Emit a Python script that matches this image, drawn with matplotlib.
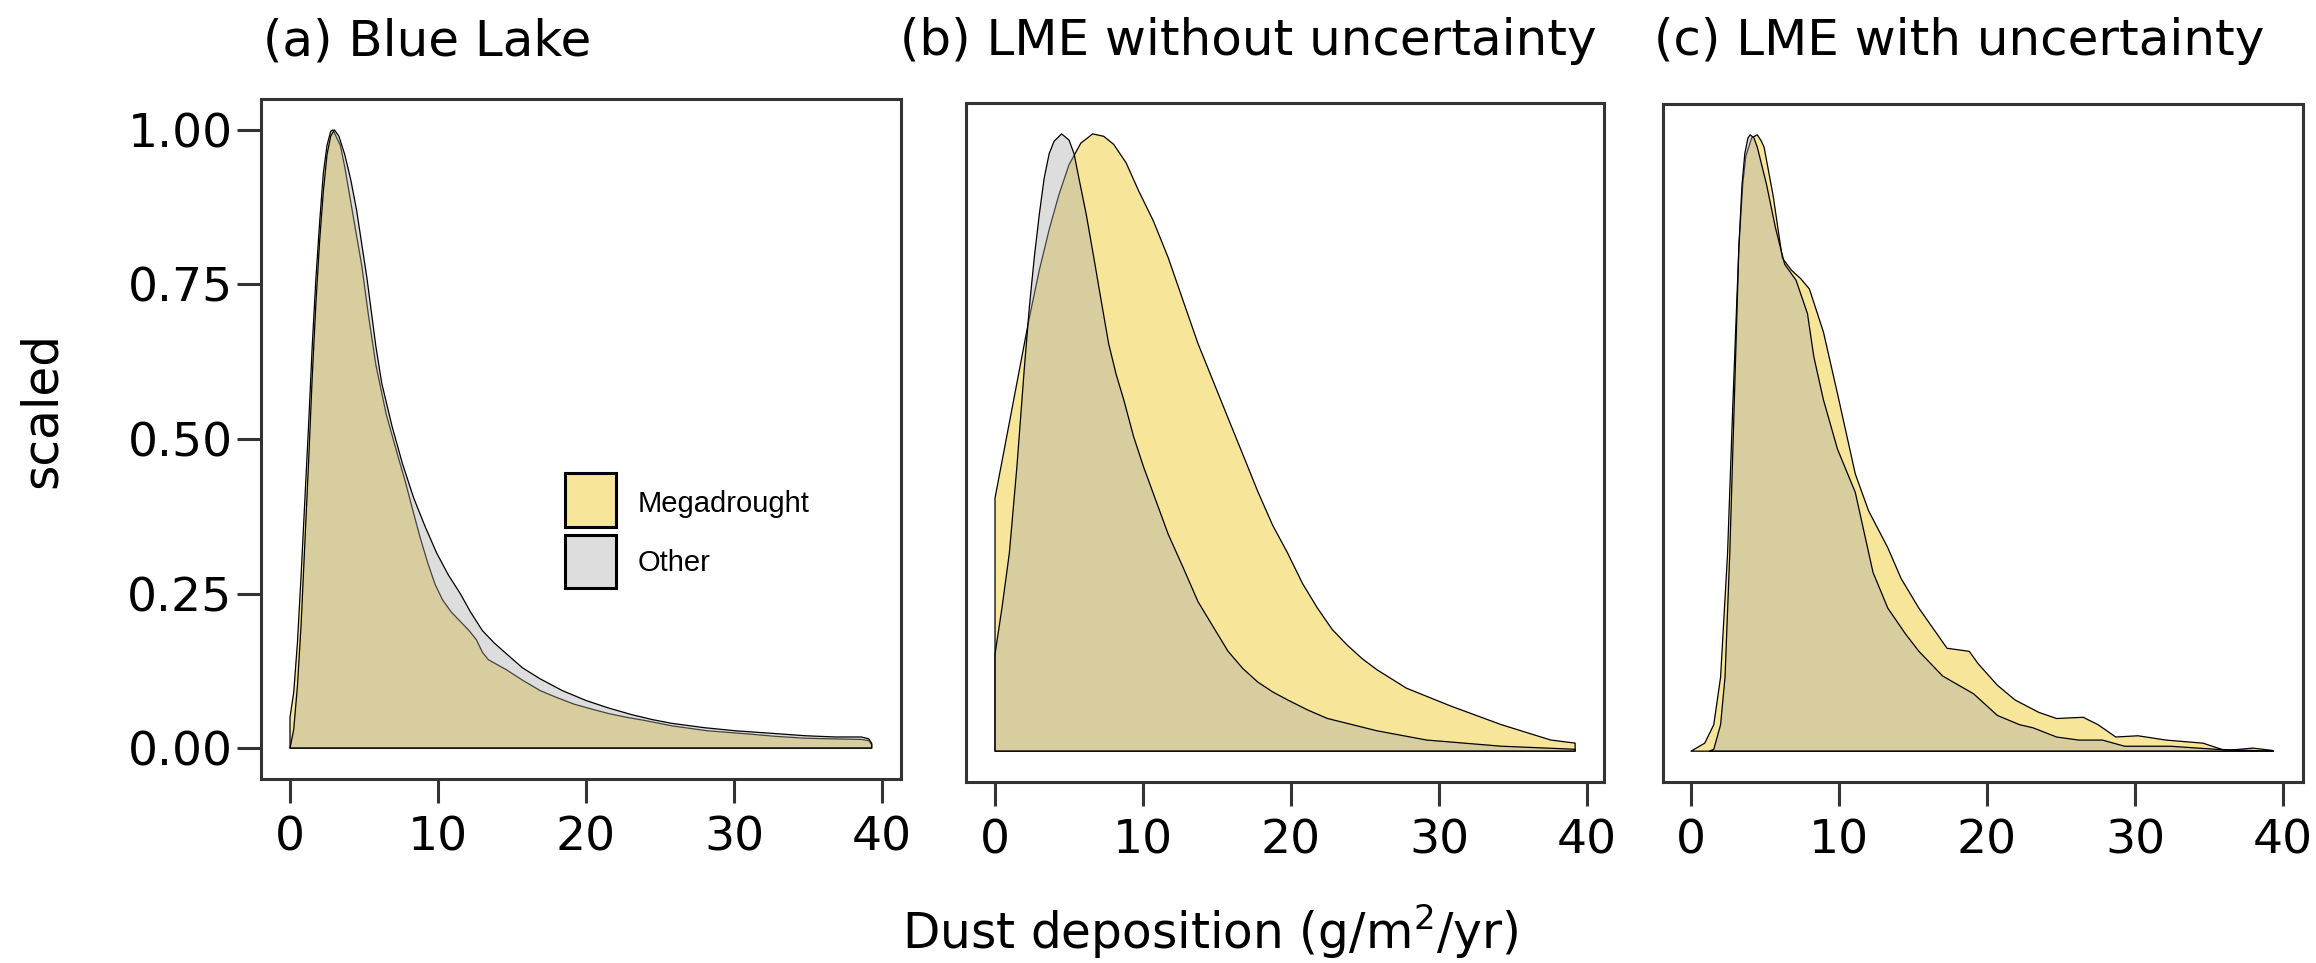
import matplotlib
matplotlib.use("Agg")
import matplotlib.pyplot as plt
from matplotlib.patches import Rectangle

# ---- data: scaled density of dust deposition (g/m2/yr) ----
series_names = ["Megadrought", "Other"]
panel_titles = ["(a) Blue Lake", "(b) LME without uncertainty", "(c) LME with uncertainty"]
x_ticks = [0, 10, 20, 30, 40]
y_ticks = [0.00, 0.25, 0.50, 0.75, 1.00]
y_tick_labels = ["0.00", "0.25", "0.50", "0.75", "1.00"]

# (a) Blue Lake
a_mega_x = [0.0, 0.25, 0.5, 0.75, 1.0, 1.25, 1.5, 1.75, 2.0, 2.25, 2.5, 2.75, 2.9, 3.1, 3.4,
            3.7, 4.2, 4.85, 5.3, 5.8, 6.5, 7.2, 7.8, 8.35, 8.8, 9.3, 9.8, 10.3, 10.9, 11.5,
            12.1, 12.6, 13.0, 13.4, 14.0, 14.6, 15.7, 16.9, 18.0, 19.2, 20.4, 21.5, 22.7,
            23.9, 25.8, 28.2, 30.9, 32.8, 34.8, 36.5, 38.6, 39.1, 39.3]
a_mega_y = [0.05, 0.09, 0.17, 0.28, 0.40, 0.52, 0.65, 0.76, 0.85, 0.93, 0.975, 0.998, 1.0,
            0.99, 0.975, 0.94, 0.87, 0.78, 0.70, 0.62, 0.54, 0.48, 0.43, 0.38, 0.34, 0.30,
            0.265, 0.24, 0.22, 0.205, 0.19, 0.175, 0.155, 0.143, 0.135, 0.127, 0.11, 0.093,
            0.082, 0.071, 0.063, 0.056, 0.05, 0.045, 0.036, 0.028, 0.023, 0.019, 0.016,
            0.015, 0.014, 0.012, 0.006]
a_other_x = [0.0, 0.25, 0.5, 0.75, 1.0, 1.25, 1.5, 1.75, 2.0, 2.25, 2.5, 2.75, 3.0, 3.3, 3.7,
             4.1, 4.5, 5.2, 5.8, 6.2, 6.9, 7.6, 8.35, 9.1, 9.9, 10.7, 11.5, 12.2, 13.0, 13.8,
             14.6, 15.7, 16.9, 18.4, 20.0, 21.5, 23.1, 24.5, 25.8, 28.0, 30.1, 32.5, 34.8,
             36.8, 38.6, 39.1, 39.3]
a_other_y = [0.0, 0.03, 0.10, 0.20, 0.33, 0.46, 0.60, 0.72, 0.82, 0.90, 0.96, 0.99, 1.0,
             0.99, 0.96, 0.92, 0.87, 0.76, 0.65, 0.59, 0.52, 0.46, 0.405, 0.36, 0.316, 0.28,
             0.25, 0.22, 0.19, 0.17, 0.153, 0.13, 0.112, 0.093, 0.077, 0.065, 0.054, 0.046,
             0.040, 0.033, 0.028, 0.024, 0.020, 0.018, 0.018, 0.015, 0.008]

# (b) LME without uncertainty
b_mega_x = [0.0, 2.3, 3.0, 3.66, 4.3, 5.0, 5.8, 6.6, 7.35, 8.02, 8.86, 9.7, 10.7, 11.71,
            12.72, 13.72, 14.73, 15.74, 16.74, 17.75, 18.76, 19.77, 20.77, 21.78, 22.79,
            23.79, 24.8, 25.8, 27.8, 30.8, 34.2, 37.55, 39.2]
b_mega_y = [0.41, 0.70, 0.78, 0.845, 0.90, 0.95, 0.985, 1.0, 0.996, 0.983, 0.953, 0.908,
            0.859, 0.799, 0.729, 0.66, 0.60, 0.54, 0.481, 0.421, 0.366, 0.321, 0.272, 0.232,
            0.197, 0.172, 0.150, 0.132, 0.102, 0.073, 0.043, 0.018, 0.013]
b_other_x = [0.0, 0.47, 0.97, 1.48, 1.98, 2.32, 2.65, 2.99, 3.32, 3.66, 3.99, 4.5, 5.0, 5.34,
             5.67, 6.17, 6.68, 7.18, 7.68, 8.19, 8.69, 9.36, 10.03, 10.87, 11.71, 12.72,
             13.72, 14.73, 15.74, 16.74, 17.75, 18.76, 19.77, 21.1, 22.45, 25.8, 29.16, 34.2,
             39.2]
b_other_y = [0.157, 0.232, 0.321, 0.461, 0.62, 0.719, 0.799, 0.869, 0.928, 0.968, 0.988, 1.0,
             0.99, 0.968, 0.928, 0.869, 0.799, 0.729, 0.66, 0.61, 0.57, 0.51, 0.461, 0.406,
             0.351, 0.297, 0.242, 0.202, 0.162, 0.134, 0.112, 0.096, 0.083, 0.067, 0.053,
             0.033, 0.018, 0.008, 0.003]

# (c) LME with uncertainty
c_mega_x = [0.0, 0.93, 1.54, 2.0, 2.47, 2.84, 3.24, 3.5, 3.7, 4.1, 4.48, 4.75, 4.94, 5.56,
            6.17, 6.8, 7.4, 8.0, 8.95, 9.9, 11.1, 12.0, 13.3, 14.2, 15.4, 17.3, 18.8, 19.4,
            20.7, 21.9, 23.5, 24.7, 26.5, 27.5, 28.7, 30.2, 32.1, 34.6, 36.1, 37.95, 39.35]
c_mega_y = [0.0, 0.013, 0.043, 0.12, 0.32, 0.57, 0.82, 0.92, 0.965, 0.995, 1.0, 0.99, 0.98,
            0.90, 0.80, 0.78, 0.767, 0.75, 0.68, 0.58, 0.45, 0.39, 0.33, 0.28, 0.232, 0.167,
            0.162, 0.142, 0.107, 0.083, 0.063, 0.053, 0.055, 0.043, 0.023, 0.025, 0.018,
            0.013, 0.001, 0.005, 0.001]
c_other_x = [1.23, 1.54, 2.0, 2.3, 2.62, 2.93, 3.24, 3.45, 3.64, 3.85, 4.0, 4.25, 4.48, 5.1,
             5.7, 6.33, 7.1, 7.87, 8.3, 8.95, 9.9, 11.1, 12.3, 13.3, 14.5, 15.4, 17.0, 19.1,
             20.7, 22.2, 23.1, 24.7, 26.2, 27.8, 29.3, 32.4, 35.5, 39.35]
c_other_y = [0.0, 0.003, 0.043, 0.12, 0.32, 0.57, 0.82, 0.92, 0.97, 0.995, 1.0, 0.995, 0.98,
             0.92, 0.85, 0.79, 0.764, 0.71, 0.64, 0.57, 0.49, 0.42, 0.29, 0.232, 0.19, 0.162,
             0.122, 0.093, 0.058, 0.043, 0.038, 0.023, 0.018, 0.018, 0.008, 0.008, 0.003, 0.0]

panels = [
    [(a_mega_x, a_mega_y), (a_other_x, a_other_y)],
    [(b_mega_x, b_mega_y), (b_other_x, b_other_y)],
    [(c_mega_x, c_mega_y), (c_other_x, c_other_y)],
]

# ---- style ----
FILL_ALPHA = 0.4
fill_colors = [(235 / 255, 190 / 255, 0.0, FILL_ALPHA), (170 / 255, 170 / 255, 170 / 255, FILL_ALPHA)]
frame_color = "#333333"
W, H = 2316, 963
DPI = 100

fig = plt.figure(figsize=(W / DPI, H / DPI), dpi=DPI)


def px_box(left, top, right, bottom):
    return [left / W, 1 - bottom / H, (right - left) / W, (bottom - top) / H]


boxes = [px_box(261, 99, 901, 779), px_box(966, 103, 1604, 782), px_box(1663, 104, 2303, 782)]
xlims = [(-1.96, 41.28), (-1.96, 41.15), (-1.89, 41.35)]
title_left = [263, 900, 1654]

for i, (box, series) in enumerate(zip(boxes, panels)):
    ax = fig.add_axes(box)
    for (xs, ys), fc in zip(series, fill_colors):
        px = list(xs) + [xs[-1], xs[0]]
        py = list(ys) + [0.0, 0.0]
        ax.fill(px, py, facecolor=fc, edgecolor="black", linewidth=0.9, joinstyle="round")
    ax.set_xlim(*xlims[i])
    ax.set_ylim(-0.05, 1.05)
    for sp in ax.spines.values():
        sp.set_color(frame_color)
        sp.set_linewidth(2.2)
    ax.set_xticks(x_ticks)
    ax.set_xticklabels([str(t) for t in x_ticks])
    ax.tick_params(axis="x", direction="out", length=17.5, width=2.2, color=frame_color,
                   labelsize=34, pad=9, labelcolor="black")
    if i == 0:
        ax.set_yticks(y_ticks)
        ax.set_yticklabels(y_tick_labels)
        ax.tick_params(axis="y", direction="out", length=17.5, width=2.2, color=frame_color,
                       labelsize=34, pad=3, labelcolor="black")
    else:
        ax.set_yticks([])
    fig.text(title_left[i] / W, 1 - 55 / H, panel_titles[i], fontsize=36,
             ha="left", va="baseline")

    if i == 0:
        # legend keys inside panel (a)
        key_boxes = [(564.5, 473.5, 51, 53), (564.5, 534.5, 51, 53)]
        baselines = [511.7, 570.7]
        for (kx, ky, kw, kh), fc, name, bl in zip(key_boxes, fill_colors, series_names, baselines):
            fig.add_artist(Rectangle((kx / W, 1 - (ky + kh) / H), kw / W, kh / H,
                                     transform=fig.transFigure, facecolor=fc,
                                     edgecolor="black", linewidth=2.2))
            fig.text(638 / W, 1 - bl / H, name, fontsize=21, family="Liberation Sans",
                     ha="left", va="baseline")

fig.text(1210 / W, 1 - 949 / H, r"Dust deposition (g/m$^2$/yr)", fontsize=35,
         ha="center", va="baseline")
fig.text(42 / W, 1 - 410 / H, "scaled", fontsize=35, rotation=90, ha="center", va="center")

fig.savefig("out.png", dpi=DPI, facecolor="white")
